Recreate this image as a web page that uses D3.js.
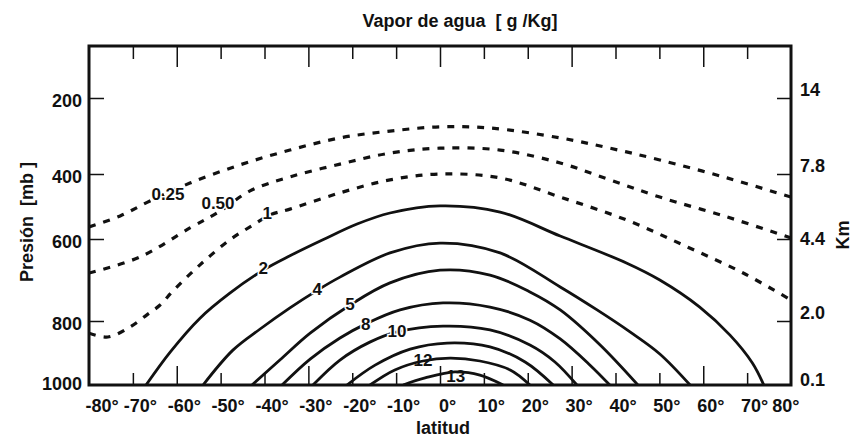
<!DOCTYPE html>
<html>
<head>
<meta charset="utf-8">
<script src="https://cdn.jsdelivr.net/npm/d3@7"></script>
<style>
  html, body { margin: 0; padding: 0; background: #fff; }
  svg { display: block; font-family: "Liberation Sans", Arial, sans-serif; font-weight: bold; }
</style>
</head>
<body>
<svg id="chart" width="854" height="439"></svg>
<script>
// Water-vapour mixing-ratio isolines, each point = [latitude °, pressure mb]
const q025 = [[-80,563],[-72.9,529],[-66.1,483],[-57,428],[-45.6,376],[-34.2,337],[-22.8,305],[-11.4,287],[0,276],[11.4,279],[27.4,305],[38.7,332],[50.1,363],[65.4,412],[80,471]];
const q050 = [[-80,683],[-68.4,644],[-57,566],[-50.1,514],[-43.3,452],[-34.2,409],[-22.8,374],[-11.4,345],[0,332],[13.7,337],[27.4,371],[38.7,418],[50.1,471],[65.4,532],[80,597]];
const q1   = [[-80,838],[-75.7,850],[-70.7,819],[-66.8,785],[-63.8,761],[-60.9,727],[-54.7,663],[-47.9,602],[-42.6,557],[-38.8,526],[-34.2,508],[-22.8,458],[-11.4,418],[0,400],[13.7,412],[27.4,471],[42.6,542],[56.5,620],[69.1,683],[80,749]];
const q2   = [[-67,1000],[-61.5,897],[-54.7,793],[-47.9,732],[-40.3,676],[-34.2,641],[-26.7,602],[-18.9,554],[-11.4,520],[0,498],[13.7,517],[27.4,591],[42.6,659],[50.1,700],[59.2,766],[66.1,844],[71.2,931],[73.8,1000]];
const q4   = [[-54,1000],[-47.2,891],[-41,825],[-34.2,768],[-27.8,724],[-22.8,693],[-11.4,634],[0,610],[13.7,634],[27.4,717],[35.8,773],[43.3,834],[50.1,903],[57,1000]];
const q5   = [[-42.85,1000],[-36.5,922],[-29.6,838],[-20.5,761],[-11.4,707],[0,676],[11.4,688],[20.5,729],[27.4,773],[36.5,875],[45.1,1000]];
const q8   = [[-36,1000],[-29.6,919],[-22.8,853],[-16.9,809],[-9.1,773],[0.7,756],[11.4,766],[20.5,798],[27.4,856],[34.2,938],[38.7,1000]];
const q10  = [[-28.95,1000],[-22.8,922],[-16,866],[-9.8,834],[0.7,816],[11.4,828],[20.5,875],[26.2,928],[31.2,1000]];
const q11  = [[-21.2,1000],[-14.8,938],[-6.8,888],[1.6,869],[11.4,881],[19.4,928],[25.8,1000]];
const q12  = [[-15.95,1000],[-10.3,953],[-3.9,925],[2.3,916],[9.1,925],[16,953],[20.5,1000]];
const q13  = [[-8.4,1000],[-3.4,978],[3.4,959],[9.1,969],[14.4,1000]];

// Isoline values; values below 2 g/kg are drawn dashed
const levels = [0.25, 0.5, 1, 2, 4, 5, 8, 10, 11, 12, 13];
const isolines = [q025, q050, q1, q2, q4, q5, q8, q10, q11, q12, q13];

// Inline value labels: text and anchor [latitude, pressure]
const labelText = ["0.25", "0.50", "1", "2", "4", "5", "8", "10", "12", "13"];
const labelLat  = [-62, -50.6, -39.4, -40.3, -28, -20.5, -16.9, -9.8, -3.9, 3.6];
const labelP    = [462, 492, 523, 671, 722, 759, 812, 834, 922, 972];

// Axes
const latTicks = [-80, -70, -60, -50, -40, -30, -20, -10, 0, 10, 20, 30, 40, 50, 60, 70, 80];
const pressureTicks = [200, 400, 600, 800, 1000];
const kmLabels = ["14", "7.8", "4.4", "2.0", "0.1"];

const svg = d3.select("#chart");
const L = 89, R = 791, T = 46, B = 385;

const x = d3.scaleLinear().domain([-80, 80]).range([L, R]);
// pressure axis is drawn with uneven spacing between its labelled levels
const y = d3.scaleLinear().domain([60, 200, 400, 600, 800, 1000]).range([T, 98, 174, 239, 321, B]);

svg.append("defs").append("clipPath").attr("id", "plot")
  .append("rect").attr("x", L).attr("y", T).attr("width", R - L).attr("height", B - T);

const line = d3.line()
  .x(d => x(d[0]))
  .y(d => y(d[1]))
  .curve(d3.curveCatmullRom.alpha(0.5));

const g = svg.append("g").attr("clip-path", "url(#plot)");
g.selectAll("path.iso")
  .data(isolines)
  .join("path")
  .attr("class", "iso")
  .attr("d", line)
  .attr("fill", "none")
  .attr("stroke", "#111")
  .attr("stroke-width", (d, i) => levels[i] < 2 ? 3.2 : 2.8)
  .attr("stroke-dasharray", (d, i) => levels[i] < 2 ? "7,8" : null)
  .attr("stroke-linecap", "butt");

// value labels
svg.append("g").selectAll("text")
  .data(labelText)
  .join("text")
  .attr("x", (d, i) => x(labelLat[i]))
  .attr("y", (d, i) => y(labelP[i]))
  .attr("text-anchor", "middle")
  .attr("dominant-baseline", "central")
  .attr("font-size", 17)
  .attr("fill", "#111")
  .attr("stroke", (d) => (d === "12" || d === "13") ? "none" : "#fff")
  .attr("stroke-width", 3)
  .attr("paint-order", "stroke")
  .text(d => d);

// frame
svg.append("rect")
  .attr("x", L).attr("y", T).attr("width", R - L).attr("height", B - T)
  .attr("fill", "none").attr("stroke", "#111").attr("stroke-width", 3);

const fontSize = 18;
const inner = latTicks.filter(d => d > -80 && d < 80);

// bottom axis (inner ticks, degree labels)
const xb = svg.append("g").attr("transform", `translate(0,${B})`)
  .call(d3.axisBottom(x).tickValues(latTicks).tickSizeInner(-12).tickSizeOuter(0)
    .tickPadding(14).tickFormat(d => d + "°"));
xb.select(".domain").remove();
xb.selectAll(".tick line")
  .attr("stroke", "#111").attr("stroke-width", 1.5)
  .attr("y2", d => d % 30 === 0 ? -19 : -12)
  .attr("display", d => inner.includes(d) ? null : "none");
xb.selectAll(".tick text")
  .attr("font-size", fontSize).attr("font-family", null).attr("fill", "#111")
  .attr("text-anchor", d => d === -80 ? "start" : d === 80 ? "end" : "middle")
  .attr("x", d => d === -80 ? -4 : d === 80 ? 8 : 7);

// top axis (ticks only)
const xt = svg.append("g").attr("transform", `translate(0,${T})`)
  .call(d3.axisTop(x).tickValues(inner).tickSizeInner(-13).tickSizeOuter(0).tickFormat(""));
xt.select(".domain").remove();
xt.selectAll(".tick line")
  .attr("stroke", "#111").attr("stroke-width", 1.5)
  .attr("y2", d => d % 30 === 0 ? 21 : 13);

// left pressure axis
const yl = svg.append("g").attr("transform", `translate(${L},0)`)
  .call(d3.axisLeft(y).tickValues(pressureTicks).tickSizeInner(-15).tickSizeOuter(0).tickPadding(7)
    .tickFormat(d3.format("d")));
yl.select(".domain").remove();
yl.selectAll(".tick line").attr("stroke", "#111").attr("stroke-width", 1.5)
  .attr("display", d => d === 1000 ? "none" : null);
yl.selectAll(".tick text").attr("font-size", fontSize).attr("font-family", null).attr("fill", "#111")
  .attr("y", d => d === 1000 ? -1 : 3);

// right height axis
const yr = svg.append("g").attr("transform", `translate(${R},0)`)
  .call(d3.axisRight(y).tickValues(pressureTicks).tickSizeInner(-14).tickSizeOuter(0).tickPadding(9)
    .tickFormat((d, i) => kmLabels[i]));
yr.select(".domain").remove();
yr.selectAll(".tick line").attr("stroke", "#111").attr("stroke-width", 1.5)
  .attr("display", d => d === 1000 ? "none" : null);
yr.selectAll(".tick text").attr("font-size", fontSize).attr("font-family", null).attr("fill", "#111")
  .attr("y", d => d === 1000 ? -5 : d === 600 ? 0 : -8);

// titles
svg.append("text")
  .attr("x", 460).attr("y", 27)
  .attr("text-anchor", "middle").attr("font-size", 18).attr("fill", "#111")
  .style("white-space", "pre")
  .text("Vapor de agua  [ g /Kg]");

svg.append("text")
  .attr("x", 443).attr("y", 434)
  .attr("text-anchor", "middle").attr("font-size", 18).attr("fill", "#111")
  .text("latitud");

svg.append("text")
  .attr("transform", "translate(33,222) rotate(-90)")
  .attr("text-anchor", "middle").attr("font-size", 18).attr("fill", "#111")
  .style("white-space", "pre")
  .text("Presión  [mb ]");

svg.append("text")
  .attr("transform", "translate(849,235) rotate(-90)")
  .attr("text-anchor", "middle").attr("font-size", 18).attr("fill", "#111")
  .text("Km");
</script>
</body>
</html>
